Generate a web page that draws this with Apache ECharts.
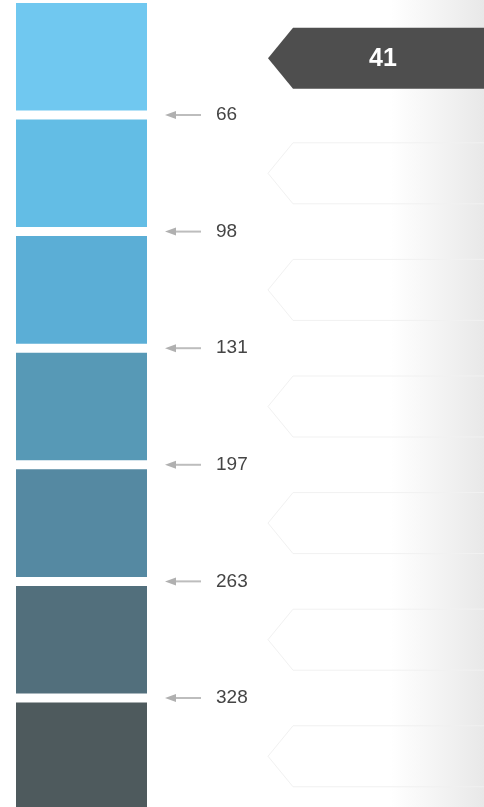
<!DOCTYPE html>
<html>
<head>
<meta charset="utf-8">
<script src="https://cdn.jsdelivr.net/npm/echarts@6/dist/echarts.min.js"></script>
<style>
html,body{margin:0;padding:0;background:#ffffff;}
#chart{width:484px;height:807px;}
</style>
</head>
<body>
<div id="chart"></div>
<script>
// Data
var bandColors = ['#70c8f0', '#63bde5', '#5baed6', '#5799b6', '#5589a2', '#526f7c', '#4e5a5d'];
var thresholds = [66, 98, 131, 197, 263, 328];
var currentValue = 41;

function bandOf(v) {
  var k = 0;
  while (k < thresholds.length && v >= thresholds[k]) k++;
  return k;
}
var currentBand = bandOf(currentValue);

var swatchData = bandColors.map(function (c, i) { return [0, i]; });
var thresholdData = thresholds.map(function (t, i) { return [0, i + 1, t]; });
var ghostData = bandColors.map(function (c, i) { return [0, i]; }).filter(function (d) { return d[1] !== currentBand; });
var pointerData = [[0, currentBand, currentValue]];

function pointerShape(cy, x0) {
  var h = 30.5;
  return [[x0, cy], [x0 + 25, cy - h], [x0 + 230, cy - h], [x0 + 230, cy + h], [x0 + 25, cy + h]];
}

var chart = echarts.init(document.getElementById('chart'), null, { renderer: 'canvas' });
var option = {
  backgroundColor: '#ffffff',
  animation: false,
  graphic: [{
    type: 'rect', z: -10, silent: true,
    shape: { x: 390, y: 0, width: 94, height: 807 },
    style: {
      fill: new echarts.graphic.LinearGradient(0, 0, 1, 0, [
        { offset: 0, color: 'rgba(234,234,234,0)' },
        { offset: 1, color: 'rgba(232,232,232,1)' }
      ])
    }
  }],
  grid: { left: 16, right: 0, top: 0, bottom: 0, containLabel: false },
  xAxis: { type: 'value', min: 0, max: 1, show: false },
  yAxis: { type: 'value', min: 0.0137, max: 6.935, inverse: true, show: false },
  series: [
    {
      type: 'custom', name: 'swatches', data: swatchData, silent: true, clip: false,
      renderItem: function (params, api) {
        var k = api.value(1);
        var p0 = api.coord([0, k]);
        var p1 = api.coord([0, k + 1]);
        return {
          type: 'rect',
          shape: { x: p0[0], y: p0[1] + 4.5, width: 131, height: p1[1] - p0[1] - 9 },
          style: { fill: bandColors[k] }
        };
      }
    },
    {
      type: 'custom', name: 'thresholds', data: thresholdData, silent: true, clip: false,
      renderItem: function (params, api) {
        var k = api.value(1);
        var p = api.coord([0, k]);
        var y = p[1];
        return {
          type: 'group',
          children: [
            { type: 'line', shape: { x1: 173, y1: y, x2: 201, y2: y }, style: { stroke: '#bdbdbd', lineWidth: 2 } },
            { type: 'polygon', shape: { points: [[165, y], [176, y - 4], [176, y + 4]] }, style: { fill: '#b0b0b0' } },
            { type: 'text', style: { x: 216, y: y, text: String(api.value(2)), font: '19px "Liberation Sans", Arial, sans-serif', fill: '#454545', textVerticalAlign: 'middle', textAlign: 'left' } }
          ]
        };
      }
    },
    {
      type: 'custom', name: 'ghosts', data: ghostData, silent: true, clip: false,
      renderItem: function (params, api) {
        var k = api.value(1);
        var p0 = api.coord([0, k]);
        var p1 = api.coord([0, k + 1]);
        var cy = (p0[1] + p1[1]) / 2;
        return {
          type: 'polygon',
          shape: { points: pointerShape(cy, 268) },
          style: { fill: 'none', stroke: '#f1f1f1', lineWidth: 1 }
        };
      }
    },
    {
      type: 'custom', name: 'pointer', data: pointerData, silent: true, clip: false,
      renderItem: function (params, api) {
        var k = api.value(1);
        var p0 = api.coord([0, k]);
        var p1 = api.coord([0, k + 1]);
        var cy = (p0[1] + p1[1]) / 2 + 1.5;
        return {
          type: 'group',
          children: [
            { type: 'polygon', shape: { points: pointerShape(cy, 268) }, style: { fill: '#4e4e4e' } },
            { type: 'text', style: { x: 383, y: cy + 1, text: String(api.value(2)), font: 'bold 25px "Liberation Sans", Arial, sans-serif', fill: '#ffffff', textAlign: 'center', textVerticalAlign: 'middle' } }
          ]
        };
      }
    }
  ]
};
chart.setOption(option);
</script>
</body>
</html>
